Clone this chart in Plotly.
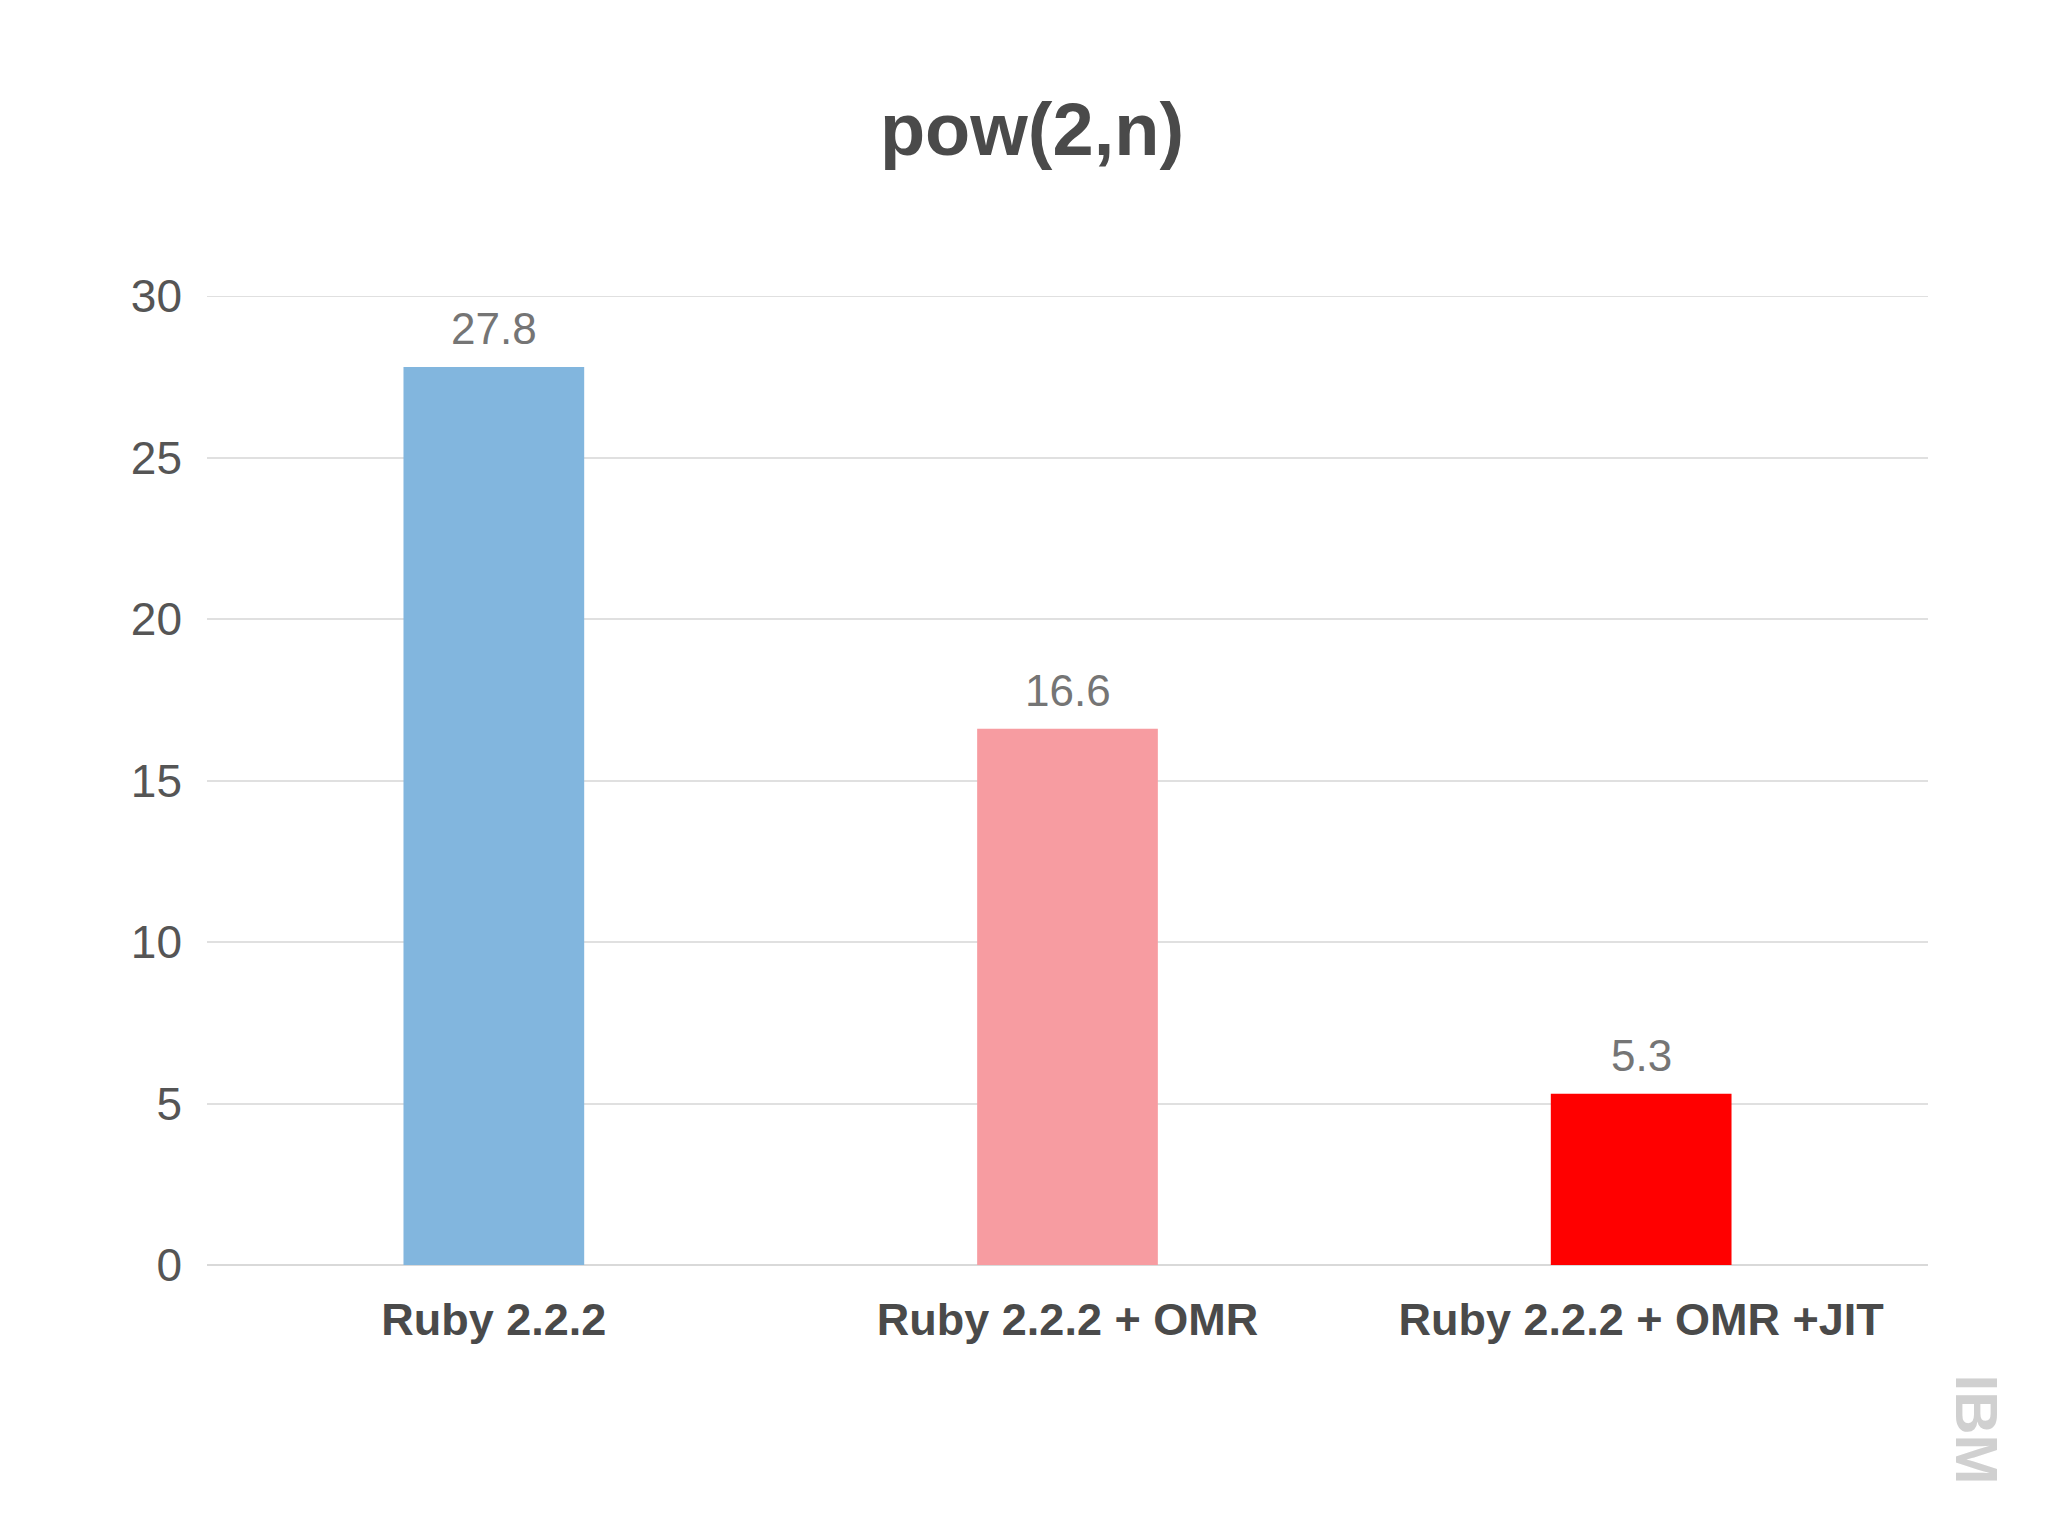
import plotly.graph_objects as go

categories = ["Ruby 2.2.2", "Ruby 2.2.2 + OMR", "Ruby 2.2.2 + OMR +JIT"]
values = [27.8, 16.6, 5.3]
colors = ["#82b6de", "#f79ca1", "#ff0000"]

fig = go.Figure(go.Bar(
    x=categories, y=values, marker_color=colors, marker_line_width=0,
    width=0.315, cliponaxis=False,
))

# value labels a bit higher above the bars than plotly's "outside" text
for c, v in zip(categories, values):
    fig.add_annotation(x=c, y=v, text=f"{v:.1f}", showarrow=False, yanchor="bottom",
                       yshift=12, font=dict(size=44, color="#757575"))

fig.update_layout(
    width=2048, height=1536, paper_bgcolor="white", plot_bgcolor="white",
    font=dict(family="Liberation Sans, Arial, sans-serif", color="#555555"),
    title=dict(text="<b>pow(2,n)</b>", x=0.5, xanchor="center", y=0.921,
               yanchor="middle", font=dict(size=74, color="#4a4a4a")),
    margin=dict(l=199, r=128, t=288, b=279),
    showlegend=False,
)
fig.update_yaxes(range=[0, 30], tickvals=[0, 5, 10, 15, 20, 25, 30],
                 showgrid=True, gridcolor="#e0e0e0",
                 gridwidth=2, zeroline=True, zerolinecolor="#d9d9d9", zerolinewidth=2,
                 tickfont=dict(size=46, color="#555555"), ticks="", ticklabelstandoff=24)
fig.update_xaxes(tickfont=dict(size=45, color="#4a4a4a"), showline=False,
                 ticklabelstandoff=24, tickprefix="<b>", ticksuffix="</b>")
fig.add_hline(y=30, line_color="#e0e0e0", line_width=2, layer="below")
fig.add_annotation(text="<b>IBM</b>", x=1.028, y=-0.17, xref="paper", yref="paper",
                   xanchor="center", yanchor="middle", textangle=90, showarrow=False,
                   font=dict(size=60, color="#d0d0d0"))

fig.write_html("out.html")
